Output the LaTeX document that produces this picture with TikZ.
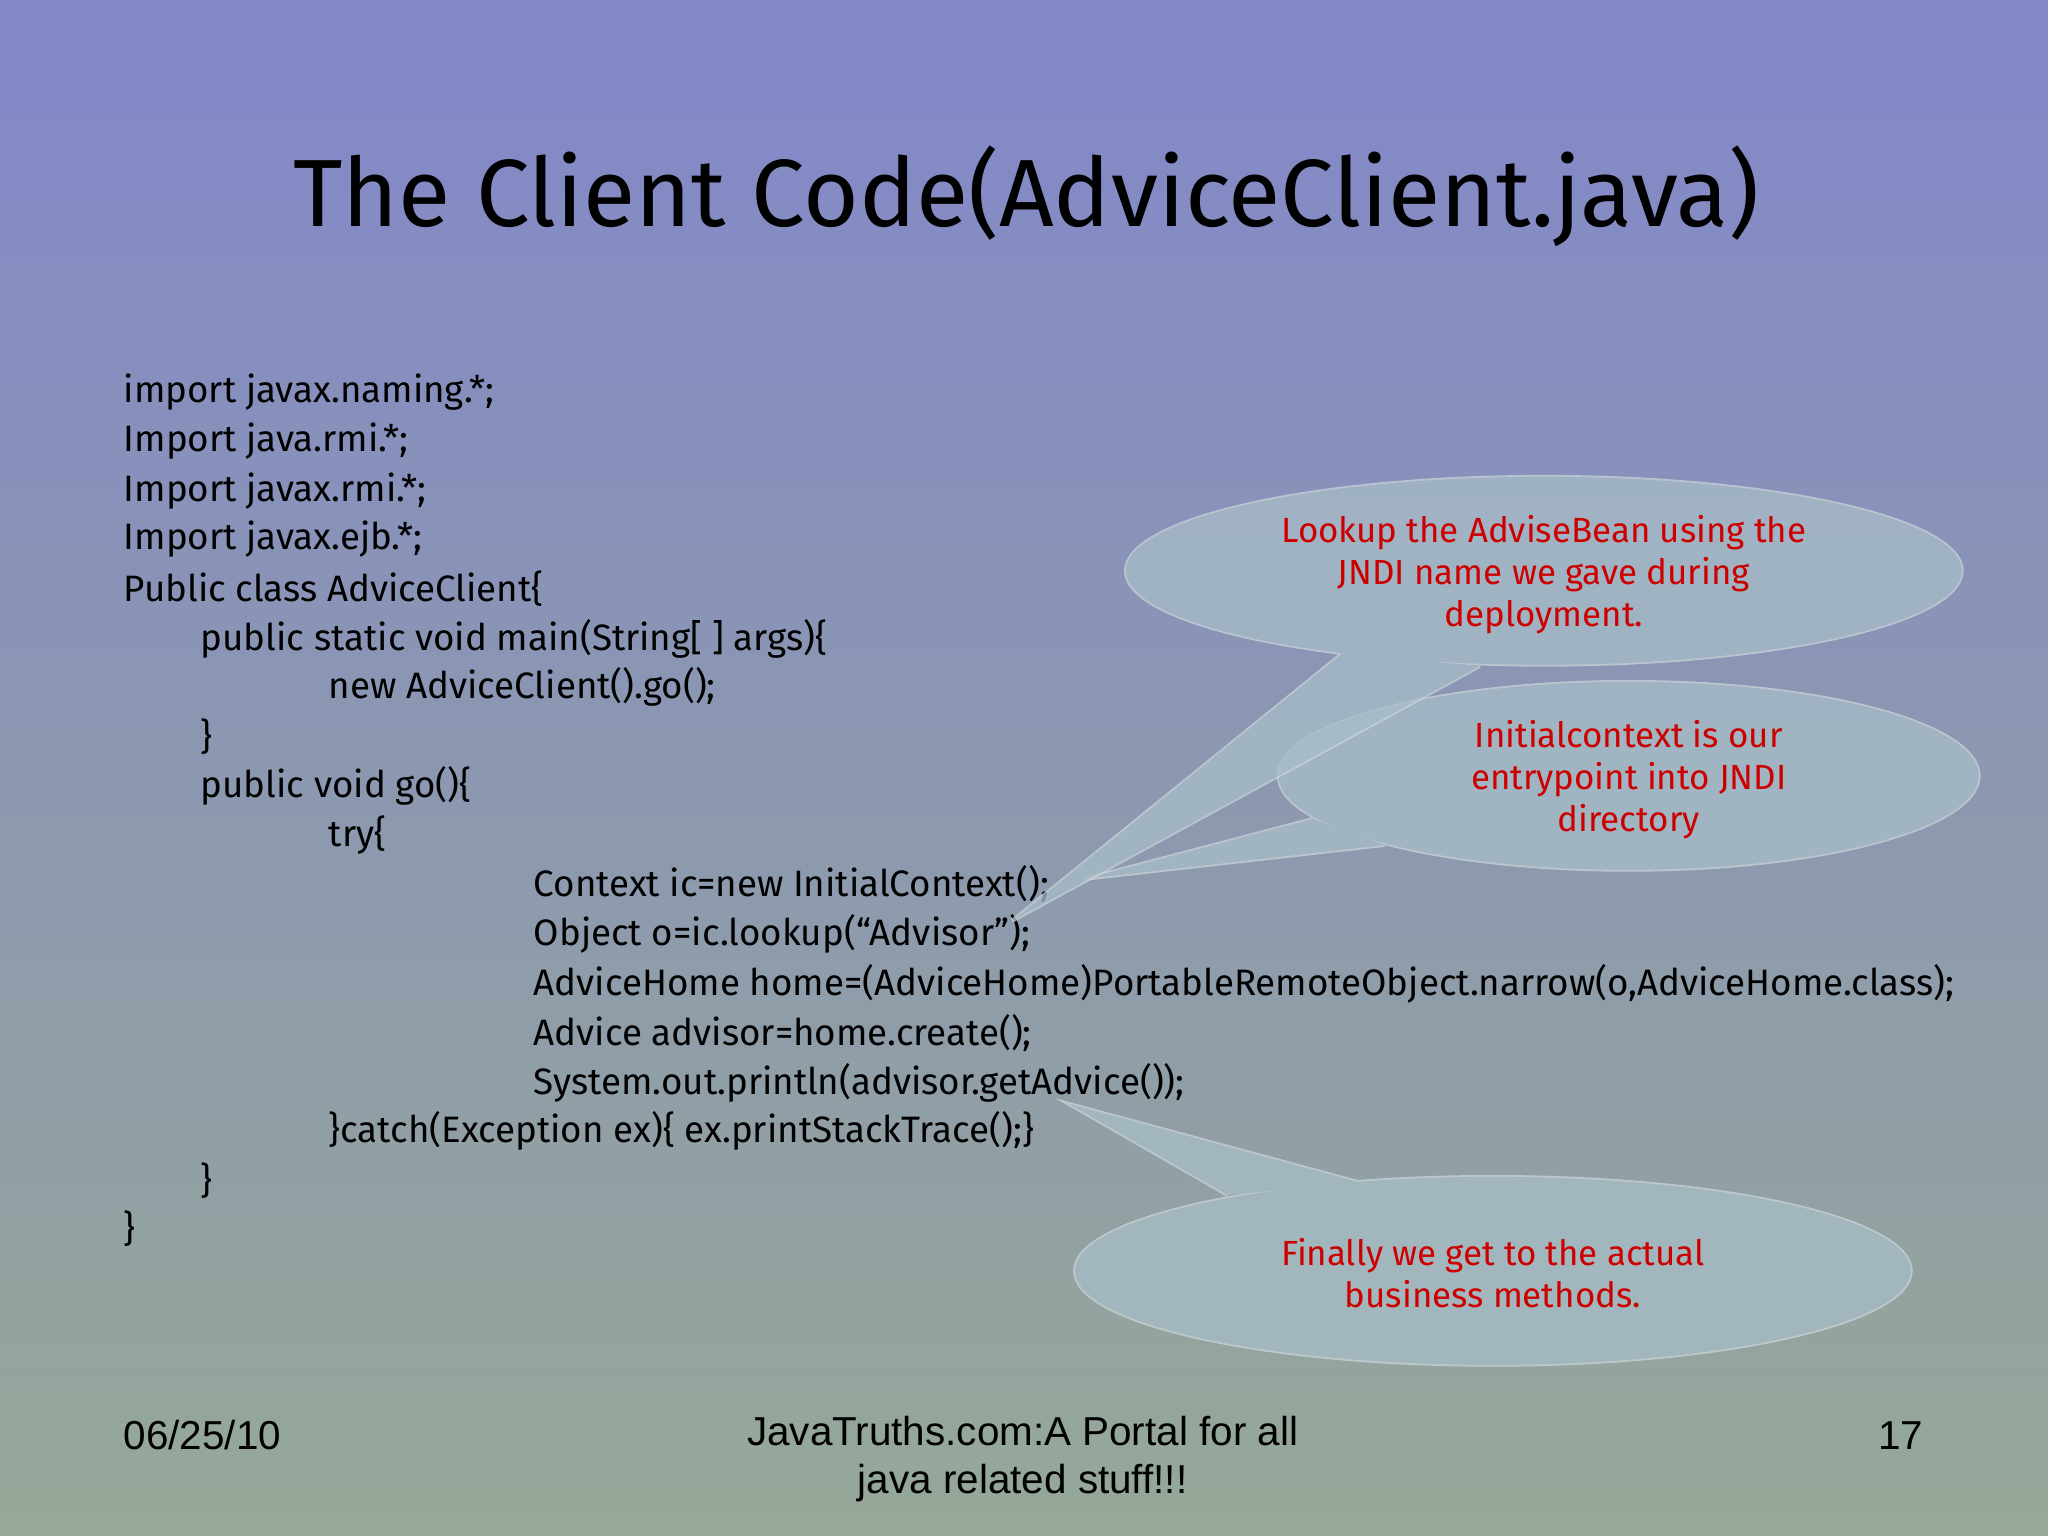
\documentclass[tikz,border=0pt]{standalone}
\usepackage{fontspec}
\setmainfont{Fira Sans}
\newfontfamily\footfont{Liberation Sans}
\definecolor{bgtop}{RGB}{130,135,202}
\definecolor{bgbot}{RGB}{150,168,152}
\definecolor{callfill}{RGB}{168,190,200}
\definecolor{calldraw}{RGB}{205,212,218}
\definecolor{redtxt}{RGB}{205,0,0}
\tikzset{
  code/.style={anchor=west,inner sep=0pt,font=\fontsize{8}{10}\selectfont},
  note/.style={align=center,text=redtxt,font=\fontsize{7.6}{9.1}\selectfont},
  foot/.style={inner sep=0pt,font=\footfont\fontsize{8.8}{10.6}\selectfont},
  callbody/.style={fill=callfill},
  callline/.style={draw=calldraw,line width=0.8pt}
}
\begin{document}
\begin{tikzpicture}[x=0.01cm,y=-0.01cm]
\useasboundingbox (0,0) rectangle (1568,1176);
\shade[top color=bgtop,bottom color=bgbot] (0,0) rectangle (1568,1176);
\node[font=\fontsize{20.8}{25}\selectfont] (title) at (786,150) {The Client Code(AdviceClient.java)};
% code
\node[code] (l1) at (94,300) {import javax.naming.*;};
\node[code] (l2) at (94,338) {Import java.rmi.*;};
\node[code] (l3) at (94,376) {Import javax.rmi.*;};
\node[code] (l4) at (94,413) {Import javax.ejb.*;};
\node[code] (l5) at (94,451) {Public class AdviceClient\{};
\node[code] (l6) at (153,489) {public static void main(String[ ] args)\{};
\node[code] (l7) at (251,526) {new AdviceClient().go();};
\node[code] (l8) at (153,564) {\}};
\node[code] (l9) at (153,602) {public void go()\{};
\node[code] (l10) at (251,639) {try\{};
\node[code] (l11) at (408,677) {Context ic=new InitialContext();};
\node[code] (l12) at (408,715) {Object o=ic.lookup(“Advisor”);};
\node[code] (l13) at (408,753) {AdviceHome home=(AdviceHome)PortableRemoteObject.narrow(o,AdviceHome.class);};
\node[code] (l14) at (408,791) {Advice advisor=home.create();};
\node[code] (l15) at (408,829) {System.out.println(advisor.getAdvice());};
\node[code] (l16) at (251,866) {\}catch(Exception ex)\{ ex.printStackTrace();\}};
\node[code] (l17) at (153,904) {\}};
\node[code] (l18) at (94,941) {\}};
% callout 3
\begin{scope}[transparency group,opacity=0.75]
\path[callline] (940,915) -- (818,845) -- (1040,905);
\draw[callline] (1143,973) ellipse [x radius=320,y radius=72];
\fill[callbody] (940,915) -- (818,845) -- (1040,905) -- cycle;
\fill[callbody] (1143,973) ellipse [x radius=320,y radius=72];
\end{scope}
% callout 2
\begin{scope}[transparency group,opacity=0.75]
\path[callline] (1005,627) -- (830,673) -- (1060,647);
\draw[callline] (1247,594) ellipse [x radius=268,y radius=72];
\fill[callbody] (1005,627) -- (830,673) -- (1060,647) -- cycle;
\fill[callbody] (1247,594) ellipse [x radius=268,y radius=72];
\end{scope}
% callout 1
\begin{scope}[transparency group,opacity=0.75]
\path[callline] (1028,500) -- (775,705) -- (1133,510);
\draw[callline] (1182,437) ellipse [x radius=320,y radius=72];
\fill[callbody] (1028,500) -- (775,705) -- (1133,510) -- cycle;
\fill[callbody] (1182,437) ellipse [x radius=320,y radius=72];
\end{scope}
\node[note] (n1) at (1182,440) {Lookup the AdviseBean using the\\JNDI name we gave during\\deployment.};
\node[note] (n2) at (1247,597) {Initialcontext is our\\entrypoint into JNDI\\directory};
\node[note] (n3) at (1143,975) {Finally we get to the actual\\business methods.};
% footer
\node[foot,anchor=west] (date) at (94,1099) {06/25/10};
\node[foot,align=center] (src) at (783,1117) {JavaTruths.com:A Portal for all\\java related stuff!!!};
\node[foot,anchor=east] (pg) at (1473,1099) {17};
\end{tikzpicture}
\end{document}
